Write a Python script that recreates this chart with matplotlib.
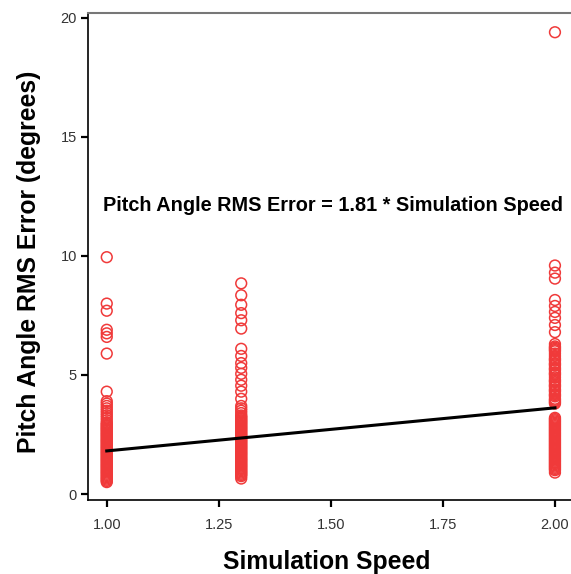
import matplotlib
matplotlib.use("Agg")
import matplotlib.pyplot as plt

plt.rcParams['font.family'] = ['Liberation Sans', 'DejaVu Sans']

# Data
speed_100 = [9.95, 8.0, 7.7, 6.9, 6.75, 6.6, 5.9, 4.3,
             3.9, 3.8, 3.7, 3.6, 3.5, 3.4, 3.3, 3.2, 3.1, 3.0, 2.9, 2.8,
             2.7, 2.6, 2.5, 2.4, 2.3, 2.2, 2.1, 2.0, 1.9, 1.8, 1.7, 1.6,
             1.5, 1.4, 1.3, 1.2, 1.1, 1.0, 0.9, 0.8, 0.7, 0.6, 0.5,
             2.95, 2.85, 2.75, 2.65, 2.55, 2.45, 2.35, 2.25, 2.15, 2.05,
             1.95, 1.85, 1.75, 1.65, 1.55, 1.45, 1.35, 1.25, 1.15, 1.05,
             0.95, 0.85, 0.75, 0.65, 0.55]
speed_130 = [8.85, 8.35, 7.95, 7.6, 7.3, 6.95, 6.1, 5.8, 5.5, 5.3, 5.05,
             4.8, 4.55, 4.3, 4.0,
             3.7, 3.6, 3.5, 3.4, 3.3, 3.2, 3.1, 3.0, 2.9, 2.8, 2.7, 2.6,
             2.5, 2.4, 2.3, 2.2, 2.1, 2.0, 1.9, 1.8, 1.7, 1.6, 1.5, 1.4,
             1.3, 1.2, 1.1, 1.0, 0.9, 0.8, 0.65,
             3.25, 3.15, 3.05, 2.95, 2.85, 2.75, 2.65, 2.55, 2.45, 2.35,
             2.25, 2.15, 2.05, 1.95, 1.85, 1.75, 1.65, 1.55, 1.45, 1.35,
             1.25, 1.15, 1.05, 0.95, 0.85, 0.75]
speed_200 = [19.4, 9.6, 9.3, 9.05, 8.15, 7.9, 7.65, 7.4, 7.1, 6.8, 6.3,
             6.2, 6.1, 6.0, 5.9, 5.8, 5.7, 5.6, 5.5, 5.4, 5.3, 5.2, 5.1,
             5.0, 4.9, 4.8, 4.7, 4.6, 4.5, 4.4, 4.3, 4.2, 4.1, 4.0, 3.9, 3.8,
             3.2, 3.1, 3.0, 2.9, 2.8, 2.7, 2.6, 2.5, 2.4, 2.3, 2.2, 2.1,
             2.0, 1.9, 1.8, 1.7, 1.6, 1.5, 1.4, 1.3, 1.2, 1.1, 1.0, 0.9,
             6.15, 6.05, 5.65, 5.45, 5.25, 5.05, 4.75, 4.55, 4.35, 4.15,
             3.95, 3.85,
             3.15, 3.05, 2.95, 2.85, 2.75, 2.65, 2.55, 2.45, 2.35, 2.25,
             2.15, 2.05, 1.95, 1.85, 1.75, 1.65, 1.55, 1.45, 1.35, 1.25,
             1.15, 1.05]
groups = {1.0: speed_100, 1.3: speed_130, 2.0: speed_200}
slope = 1.81
fit_x = [1.0, 2.0]
x_ticks = [1.00, 1.25, 1.50, 1.75, 2.00]
x_tick_labels = ['1.00', '1.25', '1.50', '1.75', '2.00']
y_ticks = [0, 5, 10, 15, 20]

fig = plt.figure(figsize=(5.71, 5.74), dpi=100)
ax = fig.add_axes([0.154, 0.129, 0.865, 0.848])

red = '#f03a3a'
for sp, vals in groups.items():
    ax.scatter([sp] * len(vals), vals, s=60, facecolors='none',
               edgecolors=red, linewidths=1.1, zorder=2)

ax.plot(fit_x, [slope * v for v in fit_x], color='black', lw=2.2, zorder=3)

ax.text(1.505, 12.1, 'Pitch Angle RMS Error = 1.81 * Simulation Speed',
        ha='center', va='center', fontsize=14.3, fontweight='bold')

ax.set_xlim(0.958, 2.06)
ax.set_ylim(-0.25, 20.2)
ax.set_xticks(x_ticks)
ax.set_xticklabels(x_tick_labels)
ax.set_yticks(y_ticks)
ax.tick_params(axis='both', direction='out', length=5, width=1.6,
               labelsize=10.5, labelcolor='#333333', color='black')
ax.tick_params(axis='x', pad=8)
ax.tick_params(axis='y', pad=3)

ax.spines['right'].set_visible(False)
ax.spines['top'].set_color('#777777')
ax.spines['top'].set_linewidth(1.5)
ax.spines['left'].set_linewidth(1.2)
ax.spines['bottom'].set_linewidth(1.2)

ax.set_xlabel('Simulation Speed', fontsize=17.8, fontweight='bold')
ax.set_ylabel('Pitch Angle RMS Error (degrees)', fontsize=17.8, fontweight='bold')
ax.xaxis.set_label_coords(0.484, -0.103)
ax.yaxis.set_label_coords(-0.095, 0.49)

fig.savefig('out.png', dpi=100)
